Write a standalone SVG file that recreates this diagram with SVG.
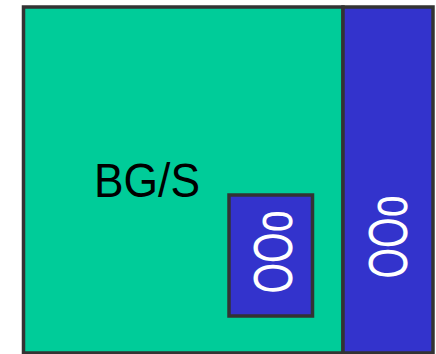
<svg xmlns="http://www.w3.org/2000/svg" width="436" height="354" viewBox="0 0 436 354">
<style>
.box{stroke:#333333;stroke-width:3.5}
.green{fill:#00CC99}
.blue{fill:#3333CC}
.lbl{font-family:"Liberation Sans",Arial,sans-serif}
.oo{font-family:"Liberation Sans",Arial,sans-serif;fill:#FFFFFF;font-size:55px}
</style>
<rect width="436" height="354" fill="#FFFFFF"/>
<g id="bgs">
<rect class="box green" x="23.5" y="7" width="319.5" height="346"/>
<text class="lbl" x="94" y="197" font-size="48" textLength="106" lengthAdjust="spacingAndGlyphs" fill="#000000">BG/S</text>
</g>
<g id="right">
<rect class="box blue" x="343" y="7" width="90" height="346"/>
<text class="oo" transform="translate(407,278.5) rotate(-90)" x="0" y="0" textLength="83" lengthAdjust="spacingAndGlyphs">OOo</text>
</g>
<g id="small">
<rect class="box blue" x="229" y="195" width="83.5" height="121"/>
<text class="oo" transform="translate(292,293.5) rotate(-90)" x="0" y="0" textLength="83" lengthAdjust="spacingAndGlyphs">OOo</text>
</g>
<g id="connectors"/>
</svg>
